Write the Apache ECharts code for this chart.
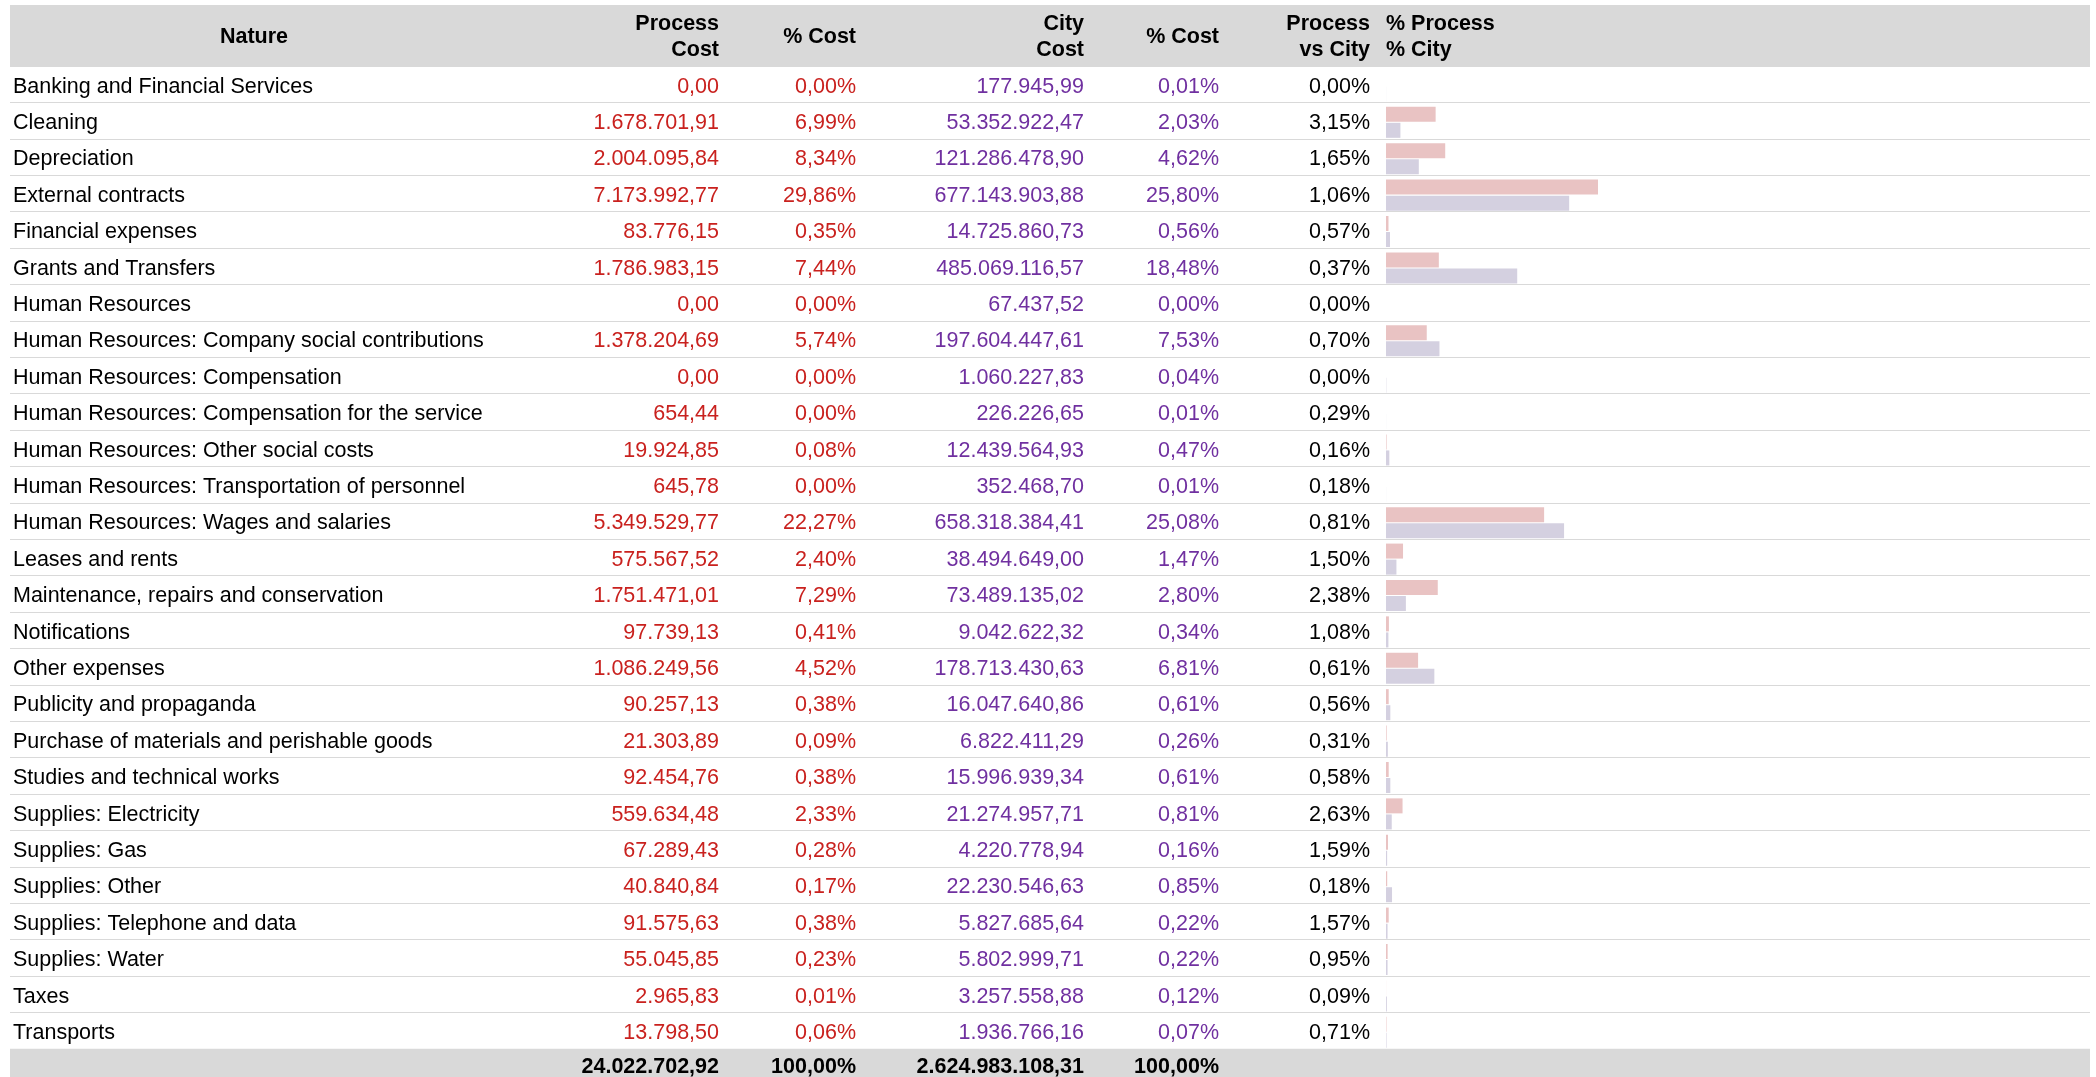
<!DOCTYPE html>
<html><head><meta charset="utf-8">
<script src="https://cdn.jsdelivr.net/npm/echarts@6/dist/echarts.min.js"></script>
<style>html,body{margin:0;padding:0;background:#fff}#c{width:2096px;height:1077px}</style>
</head><body><div id="c"></div>
<script>
const natures = [
  'Banking and Financial Services','Cleaning','Depreciation','External contracts','Financial expenses',
  'Grants and Transfers','Human Resources','Human Resources: Company social contributions',
  'Human Resources: Compensation','Human Resources: Compensation for the service',
  'Human Resources: Other social costs','Human Resources: Transportation of personnel',
  'Human Resources: Wages and salaries','Leases and rents','Maintenance, repairs and conservation',
  'Notifications','Other expenses','Publicity and propaganda','Purchase of materials and perishable goods',
  'Studies and technical works','Supplies: Electricity','Supplies: Gas','Supplies: Other',
  'Supplies: Telephone and data','Supplies: Water','Taxes','Transports'
];
const processCost = [0.00,1678701.91,2004095.84,7173992.77,83776.15,1786983.15,0.00,1378204.69,0.00,654.44,
  19924.85,645.78,5349529.77,575567.52,1751471.01,97739.13,1086249.56,90257.13,21303.89,92454.76,
  559634.48,67289.43,40840.84,91575.63,55045.85,2965.83,13798.50];
const processPct = [0.00,6.99,8.34,29.86,0.35,7.44,0.00,5.74,0.00,0.00,0.08,0.00,22.27,2.40,7.29,0.41,4.52,
  0.38,0.09,0.38,2.33,0.28,0.17,0.38,0.23,0.01,0.06];
const cityCost = [177945.99,53352922.47,121286478.90,677143903.88,14725860.73,485069116.57,67437.52,
  197604447.61,1060227.83,226226.65,12439564.93,352468.70,658318384.41,38494649.00,73489135.02,
  9042622.32,178713430.63,16047640.86,6822411.29,15996939.34,21274957.71,4220778.94,22230546.63,
  5827685.64,5802999.71,3257558.88,1936766.16];
const cityPct = [0.01,2.03,4.62,25.80,0.56,18.48,0.00,7.53,0.04,0.01,0.47,0.01,25.08,1.47,2.80,0.34,6.81,
  0.61,0.26,0.61,0.81,0.16,0.85,0.22,0.22,0.12,0.07];
const processVsCity = [0.00,3.15,1.65,1.06,0.57,0.37,0.00,0.70,0.00,0.29,0.16,0.18,0.81,1.50,2.38,1.08,
  0.61,0.56,0.31,0.58,2.63,1.59,0.18,1.57,0.95,0.09,0.71];
const totals = { processCost: 24022702.92, processPct: 100.00, cityCost: 2624983108.31, cityPct: 100.00 };
const headerLabels = ['Nature','Process\nCost','% Cost','City\nCost','% Cost','Process\nvs City','% Process\n% City'];

const FONT = '"Liberation Sans", Arial, sans-serif';
const FS = 21.5;
const RED = '#c9211e', PURPLE = '#7030a0';
const PINK_BAR = '#e9c3c3', PURPLE_BAR = '#d4d0e0', GRAY = '#d9d9d9';

function fmt(v){
  const s = v.toFixed(2).split('.');
  return s[0].replace(/\B(?=(\d{3})+(?!\d))/g,'.') + ',' + s[1];
}
function pct(v){ return fmt(v) + '%'; }

const rowCats = natures.concat(['TOTAL']);
const W = {n:484, pc:222, pp:137, cc:228, cp:135, r:151};
function tok(w, align, color, bold){
  return {width:w, align:align, color:color, fontSize:FS, fontFamily:FONT,
    fontWeight: bold ? 'bold' : 'normal', padding: bold ? [1,0,0,0] : [5,0,0,0]};
}
const rich = {
  n: tok(W.n,'left','#000'), pc: tok(W.pc,'right',RED), pp: tok(W.pp,'right',RED),
  cc: tok(W.cc,'right',PURPLE), cp: tok(W.cp,'right',PURPLE), r: tok(W.r,'right','#000'),
  tn: tok(W.n,'left','#000',true), tpc: tok(W.pc,'right','#000',true), tpp: tok(W.pp,'right','#000',true),
  tcc: tok(W.cc,'right','#000',true), tcp: tok(W.cp,'right','#000',true), tr: tok(W.r,'right','#000',true)
};
function rowLabel(value, idx){
  if (idx >= natures.length) {
    return '{tn| }{tpc|' + fmt(totals.processCost) + '}{tpp|' + pct(totals.processPct) + '}{tcc|' +
      fmt(totals.cityCost) + '}{tcp|' + pct(totals.cityPct) + '}{tr| }';
  }
  return '{n|' + natures[idx] + '}{pc|' + fmt(processCost[idx]) + '}{pp|' + pct(processPct[idx]) +
    '}{cc|' + fmt(cityCost[idx]) + '}{cp|' + pct(cityPct[idx]) + '}{r|' + pct(processVsCity[idx]) + '}';
}

const ROW_H = 36.4, TOP = 66;
const headerX = [254, 719, 856, 1084, 1219, 1370, 1386];
const headerAlign = ['center','right','right','right','right','right','left'];
const graphics = [
  {type:'rect', z:-10, shape:{x:10, y:5, width:2080, height:TOP-5}, style:{fill:GRAY}},
  {type:'rect', z:-10, shape:{x:10, y:TOP + natures.length*ROW_H, width:2080, height:60}, style:{fill:GRAY}}
];
headerLabels.forEach((t,i)=>{
  graphics.push({type:'text', z:5, x: headerX[i], y: 37,
    style:{text:t, fill:'#000', font:'bold ' + FS + 'px ' + FONT, lineHeight:26,
      align:headerAlign[i], textAlign:headerAlign[i], verticalAlign:'middle', textVerticalAlign:'middle'}});
});

const chart = echarts.init(document.getElementById('c'), null, {renderer:'canvas'});
chart.setOption({
  backgroundColor:'#fff',
  animation:false,
  graphic: graphics,
  grid:[
    {left:10, right:6, top:TOP, height: rowCats.length*ROW_H, outerBoundsMode:'none', containLabel:false},
    {left:1386, right:0, top:TOP+1.7, height: natures.length*ROW_H, outerBoundsMode:'none', containLabel:false}
  ],
  xAxis:[
    {gridIndex:0, type:'value', show:false, min:0, max:1},
    {gridIndex:1, type:'value', show:false, min:0, max:100}
  ],
  yAxis:[
    {gridIndex:0, type:'category', inverse:true, data:rowCats,
      axisLine:{show:false}, axisTick:{show:false},
      splitLine:{show:true, interval:0, lineStyle:{color:GRAY, width:1}},
      axisLabel:{inside:true, margin:3, interval:0, formatter: rowLabel, rich: rich, fontSize:FS, fontFamily:FONT}},
    {gridIndex:1, type:'category', inverse:true, data:natures, show:false}
  ],
  series:[
    {type:'bar', xAxisIndex:1, yAxisIndex:1, data:processPct, barWidth:15, barGap:'7%',
      itemStyle:{color:PINK_BAR}, silent:true},
    {type:'bar', xAxisIndex:1, yAxisIndex:1, data:cityPct, barWidth:15, barGap:'7%',
      itemStyle:{color:PURPLE_BAR}, silent:true}
  ]
});
</script>
</body></html>
